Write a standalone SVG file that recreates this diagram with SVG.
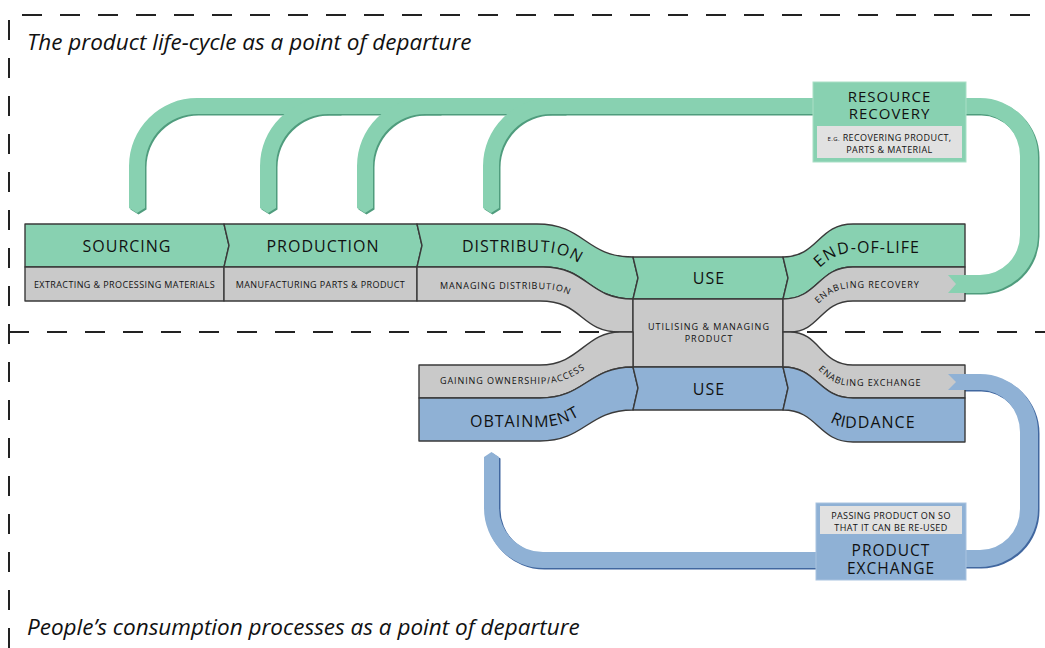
<svg xmlns="http://www.w3.org/2000/svg" width="1045" height="648" viewBox="0 0 1045 648">
<style>
.band{stroke:#3a3a3a;stroke-width:1.4;stroke-linejoin:round}
.g{fill:#88d1b1}.gr{fill:#c9c9c9}.b{fill:#8fb1d5}
.gs{fill:#4f9c7d}.bs{fill:#41679f}
.t1{font-family:'Open Sans',sans-serif;font-size:16px;letter-spacing:1px;fill:#111}
.t2{font-family:'Open Sans',sans-serif;font-size:9px;letter-spacing:0.4px;fill:#111}
.cv{letter-spacing:0.9px}
.title{font-family:'Open Sans',sans-serif;font-style:italic;font-size:22.5px;fill:#111}
.dash{stroke:#222;stroke-width:2;stroke-dasharray:20 18;fill:none}
</style>
<defs>
<path id="pDist" d="M 417 252 L 540 252 C 585 252 590 286 635 286"/>
<path id="pMan" d="M 417 289 L 540 289 C 583 289 590 320 635 320"/>
<path id="pGain" d="M 419 384 L 540 384 C 583 384 590 352 635 352"/>
<path id="pObt" d="M 419 427 L 540 427 C 583 427 590 396 635 396"/>
<path id="pEol" d="M 783 286 C 818 286 818 253 853 253 L 965 253"/>
<path id="pRec" d="M 783 320 C 818 320 818 288 853 288 L 965 288"/>
<path id="pExc" d="M 783 353 C 818 353 818 386 853 386 L 965 386"/>
<path id="pRid" d="M 783 396 C 818 396 818 428 853 428 L 965 428"/>
</defs>
<rect width="1045" height="648" fill="#fff"/>
<g id="frame">
<path class="dash" d="M 9 648 L 9 15 L 1045 15"/>
<path class="dash" d="M 9 332 L 1045 332"/>
<text class="title" x="27" y="50">The product life-cycle as a point of departure</text>
<text class="title" x="27" y="635">People’s consumption processes as a point of departure</text>
</g>
<g id="connectors">
<g transform="translate(1.5,1.5)">
<path class="gs" d="M 129 208 L 129 166 A 68 68 0 0 1 197 98 L 813 98 L 813 114 L 197 114 A 52 52 0 0 0 145 166 L 145 208 L 137 213 Z"/>
<path class="gs" d="M 260 208 L 260 166 A 68 68 0 0 1 328 98 L 340 98 L 340 114 L 328 114 A 52 52 0 0 0 276 166 L 276 208 L 268 213 Z"/>
<path class="gs" d="M 357 208 L 357 166 A 68 68 0 0 1 425 98 L 440 98 L 440 114 L 425 114 A 52 52 0 0 0 373 166 L 373 208 L 365 213 Z"/>
<path class="gs" d="M 483 208 L 483 166 A 68 68 0 0 1 551 98 L 565 98 L 565 114 L 551 114 A 52 52 0 0 0 499 166 L 499 208 L 491 213 Z"/>
<path class="gs" d="M 963 98 L 980 98 A 58 58 0 0 1 1038 156 L 1038 235 A 58 58 0 0 1 980 293 L 948 293 L 956 284 L 948 275 L 980 275 A 40 40 0 0 0 1020 235 L 1020 156 A 40 42 0 0 0 980 114 L 963 114 Z"/>
<path class="bs" d="M 948 374 L 980 374 A 58 58 0 0 1 1038 432 L 1038 509 A 58 58 0 0 1 980 567 L 963 567 L 963 550 L 980 550 A 40 41 0 0 0 1020 509 L 1020 432 A 40 42 0 0 0 980 390 L 948 390 L 956 382 Z"/>
<path class="bs" d="M 484 457 L 491.5 452 L 499 457 L 499 508 A 44 44 0 0 0 543 552 L 818 552 L 818 568 L 543 568 A 59 60 0 0 1 484 508 Z"/>
</g>
<path class="g" d="M 129 208 L 129 166 A 68 68 0 0 1 197 98 L 813 98 L 813 114 L 197 114 A 52 52 0 0 0 145 166 L 145 208 L 137 213 Z"/>
<path class="g" d="M 260 208 L 260 166 A 68 68 0 0 1 328 98 L 340 98 L 340 114 L 328 114 A 52 52 0 0 0 276 166 L 276 208 L 268 213 Z"/>
<path class="g" d="M 357 208 L 357 166 A 68 68 0 0 1 425 98 L 440 98 L 440 114 L 425 114 A 52 52 0 0 0 373 166 L 373 208 L 365 213 Z"/>
<path class="g" d="M 483 208 L 483 166 A 68 68 0 0 1 551 98 L 565 98 L 565 114 L 551 114 A 52 52 0 0 0 499 166 L 499 208 L 491 213 Z"/>
<path class="b" d="M 484 457 L 491.5 452 L 499 457 L 499 508 A 44 44 0 0 0 543 552 L 818 552 L 818 568 L 543 568 A 59 60 0 0 1 484 508 Z"/>
</g>
<g id="sourcing">
<path class="band g" d="M 25 224 L 224 224 L 229 245.5 L 224 267 L 25 267 Z"/>
<rect class="band gr" x="25" y="267" width="199" height="34"/>
<text class="t1" x="127" y="251.5" text-anchor="middle">SOURCING</text>
<text class="t2" x="124.5" y="287.5" text-anchor="middle">EXTRACTING &amp; PROCESSING MATERIALS</text>
</g>
<g id="production">
<path class="band g" d="M 224 224 L 417 224 L 422 245.5 L 417 267 L 224 267 L 229 245.5 Z"/>
<rect class="band gr" x="224" y="267" width="193" height="34"/>
<text class="t1" x="323" y="251.5" text-anchor="middle">PRODUCTION</text>
<text class="t2" x="320.5" y="287.5" text-anchor="middle">MANUFACTURING PARTS &amp; PRODUCT</text>
</g>
<g id="distribution">
<path class="band g" d="M 417 224 L 537 224 C 585 224 585 257 633 257 L 638 278 L 633 299 C 588 299 588 267 543 267 L 417 267 L 422 245.5 Z"/>
<path class="band gr" d="M 417 267 L 543 267 C 588 267 588 299 633 299 L 633 332 L 620 332 C 580 332 583 301 540 301 L 417 301 Z"/>
<text class="t1"><textPath href="#pDist" startOffset="45">DISTRIBUTION</textPath></text>
<text class="t2 cv"><textPath href="#pMan" startOffset="23">MANAGING DISTRIBUTION</textPath></text>
</g>
<g id="use-top">
<path class="band g" d="M 633 257 L 783 257 L 788 278 L 783 299 L 633 299 L 638 278 Z"/>
<text class="t1" x="709" y="284" text-anchor="middle">USE</text>
</g>
<g id="utilising">
<rect class="band gr" x="633" y="299" width="150" height="68"/>
<text class="t2" x="709" y="330" text-anchor="middle" style="letter-spacing:1px">UTILISING &amp; MANAGING</text>
<text class="t2" x="709" y="342" text-anchor="middle" style="letter-spacing:1px">PRODUCT</text>
</g>
<g id="end-of-life">
<path class="band g" d="M 783 257 C 818 257 818 224 853 224 L 965 224 L 965 267 L 853 267 C 818 267 818 299 783 299 L 788 278 Z"/>
<path class="band gr" d="M 783 299 C 818 299 818 267 853 267 L 965 267 L 965 301 L 853 301 C 820 301 820 332 790 332 L 783 332 Z"/>
<text class="t1"><textPath href="#pEol" startOffset="42">END-OF-LIFE</textPath></text>
<text class="t2 cv"><textPath href="#pRec" startOffset="40">ENABLING RECOVERY</textPath></text>
</g>
<g id="obtainment">
<path class="band gr" d="M 419 365 L 540 365 C 580 365 585 332 620 332 L 633 332 L 633 367 C 588 367 585 398 540 398 L 419 398 Z"/>
<path class="band b" d="M 419 398 L 540 398 C 585 398 588 367 633 367 L 638 388 L 633 410 C 588 410 585 441 540 441 L 419 441 Z"/>
<text class="t2 cv"><textPath href="#pGain" startOffset="21">GAINING OWNERSHIP/ACCESS</textPath></text>
<text class="t1"><textPath href="#pObt" startOffset="51">OBTAINMENT</textPath></text>
</g>
<g id="use-bottom">
<path class="band b" d="M 633 367 L 783 367 L 788 388 L 783 410 L 633 410 L 638 388 Z"/>
<text class="t1" x="709" y="394.5" text-anchor="middle">USE</text>
</g>
<g id="riddance">
<path class="band gr" d="M 783 332 L 790 332 C 820 332 820 365 853 365 L 965 365 L 965 398 L 853 398 C 818 398 818 367 783 367 Z"/>
<path class="band b" d="M 783 367 C 818 367 818 398 853 398 L 965 398 L 965 442 L 853 442 C 818 442 818 410 783 410 L 788 388 Z"/>
<text class="t2 cv"><textPath href="#pExc" startOffset="40">ENABLING EXCHANGE</textPath></text>
<text class="t1"><textPath href="#pRid" startOffset="55">RIDDANCE</textPath></text>
</g>
<g id="return-arrows">
<path class="g" d="M 963 98 L 980 98 A 58 58 0 0 1 1038 156 L 1038 235 A 58 58 0 0 1 980 293 L 948 293 L 956 284 L 948 275 L 980 275 A 40 40 0 0 0 1020 235 L 1020 156 A 40 42 0 0 0 980 114 L 963 114 Z"/>
<path class="b" d="M 948 374 L 980 374 A 58 58 0 0 1 1038 432 L 1038 509 A 58 58 0 0 1 980 567 L 963 567 L 963 550 L 980 550 A 40 41 0 0 0 1020 509 L 1020 432 A 40 42 0 0 0 980 390 L 948 390 L 956 382 Z"/>
</g>
<g id="resource-recovery">
<rect x="813" y="82" width="153" height="80" fill="#88d1b1" stroke="#a9dfc6" stroke-width="1"/>
<rect x="817" y="126" width="145" height="32" fill="#e1e1e1"/>
<text class="t1" x="889.5" y="101.5" text-anchor="middle" style="letter-spacing:1px;font-size:15px">RESOURCE</text>
<text class="t1" x="889.5" y="118.5" text-anchor="middle" style="letter-spacing:1px;font-size:15px">RECOVERY</text>
<text class="t2" x="889.5" y="141" text-anchor="middle"><tspan style="font-size:6px">E.G.</tspan> RECOVERING PRODUCT,</text>
<text class="t2" x="889.5" y="153" text-anchor="middle">PARTS &amp; MATERIAL</text>
</g>
<g id="product-exchange">
<rect x="816" y="503" width="150" height="77" fill="#8fb1d5" stroke="#a9c3e0" stroke-width="1"/>
<rect x="820" y="506" width="142" height="28" fill="#e1e1e1"/>
<text class="t2" x="891" y="519" text-anchor="middle">PASSING PRODUCT ON SO</text>
<text class="t2" x="891" y="530.5" text-anchor="middle">THAT IT CAN BE RE-USED</text>
<text class="t1" x="891" y="556" text-anchor="middle" style="letter-spacing:1px;font-size:15.5px">PRODUCT</text>
<text class="t1" x="891" y="574" text-anchor="middle" style="letter-spacing:1px;font-size:15.5px">EXCHANGE</text>
</g>
</svg>
